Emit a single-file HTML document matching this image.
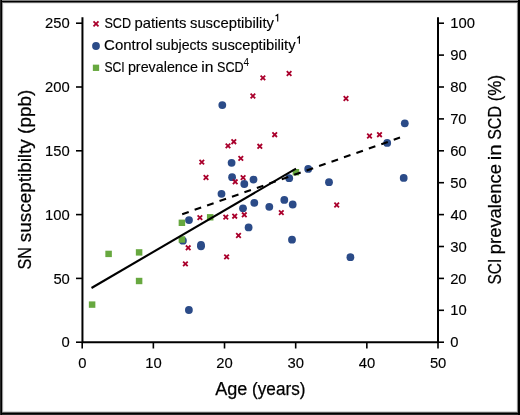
<!DOCTYPE html>
<html><head><meta charset="utf-8"><style>
html,body{margin:0;padding:0;background:#fff;}
body{width:520px;height:415px;overflow:hidden;}
.fr{position:absolute;left:0;width:520px;}
.fc{position:absolute;top:0;width:1px;height:415px;}
svg{position:absolute;left:0;top:0;will-change:transform;}
text{font-family:"Liberation Sans", sans-serif;fill:#000;}
.t{font-size:15.5px;stroke:#000;stroke-width:0.15px;}
.at{font-size:18px;stroke:#000;stroke-width:0.25px;}
.at2{font-size:19px;stroke:#000;stroke-width:0.25px;}
.lg{font-size:14.5px;stroke:#000;stroke-width:0.15px;}
.sup{font-size:10px;}
</style></head><body>
<div class="fr" style="top:0;height:1px;background:#808080"></div>
<div class="fr" style="top:1px;height:1px;background:#000"></div>
<div class="fr" style="top:2px;height:1px;background:#666"></div>
<div class="fr" style="top:3px;height:1px;left:3px;width:514px;background:#ebebeb"></div>
<div class="fr" style="top:411px;height:1px;left:3px;width:514px;background:#d9d9d9"></div>
<div class="fr" style="top:412px;height:1px;background:#595959"></div>
<div class="fr" style="top:413px;height:1px;background:#000"></div>
<div class="fr" style="top:414px;height:1px;background:#262626"></div>
<div class="fc" style="left:0;background:#262626"></div>
<div class="fc" style="left:1px;background:#000"></div>
<div class="fc" style="left:2px;top:3px;height:409px;background:#999"></div>
<div class="fc" style="left:3px;top:3px;height:408px;background:#f2f2f2"></div>
<div class="fc" style="left:516px;top:3px;height:408px;background:#f2f2f2"></div>
<div class="fc" style="left:517px;top:3px;height:409px;background:#888"></div>
<div class="fc" style="left:518px;background:#000"></div>
<div class="fc" style="left:519px;background:#000"></div>
<svg width="520" height="415" viewBox="0 0 520 415">
<path d="M82.45 17.2V342.2H438.0V17.2" stroke="#000" stroke-width="2" fill="none"/>
<line x1="76" y1="342.20" x2="82.2" y2="342.20" stroke="#000" stroke-width="1.6"/>
<text x="61.61" y="347.45" textLength="8.23" lengthAdjust="spacingAndGlyphs" class="t">0</text>
<line x1="76" y1="278.40" x2="82.2" y2="278.40" stroke="#000" stroke-width="1.6"/>
<text x="53.40" y="283.65" textLength="16.47" lengthAdjust="spacingAndGlyphs" class="t">50</text>
<line x1="76" y1="214.60" x2="82.2" y2="214.60" stroke="#000" stroke-width="1.6"/>
<text x="45.09" y="219.85" textLength="24.70" lengthAdjust="spacingAndGlyphs" class="t">100</text>
<line x1="76" y1="150.80" x2="82.2" y2="150.80" stroke="#000" stroke-width="1.6"/>
<text x="45.09" y="156.05" textLength="24.70" lengthAdjust="spacingAndGlyphs" class="t">150</text>
<line x1="76" y1="87.00" x2="82.2" y2="87.00" stroke="#000" stroke-width="1.6"/>
<text x="45.09" y="92.25" textLength="24.70" lengthAdjust="spacingAndGlyphs" class="t">200</text>
<line x1="76" y1="23.20" x2="82.2" y2="23.20" stroke="#000" stroke-width="1.6"/>
<text x="45.09" y="28.45" textLength="24.70" lengthAdjust="spacingAndGlyphs" class="t">250</text>
<line x1="82.20" y1="342.2" x2="82.20" y2="348.5" stroke="#000" stroke-width="1.6"/>
<text x="78.19" y="368.4" textLength="8.23" lengthAdjust="spacingAndGlyphs" class="t">0</text>
<line x1="153.36" y1="342.2" x2="153.36" y2="348.5" stroke="#000" stroke-width="1.6"/>
<text x="145.36" y="368.4" textLength="16.47" lengthAdjust="spacingAndGlyphs" class="t">10</text>
<line x1="224.52" y1="342.2" x2="224.52" y2="348.5" stroke="#000" stroke-width="1.6"/>
<text x="216.31" y="368.4" textLength="16.47" lengthAdjust="spacingAndGlyphs" class="t">20</text>
<line x1="295.68" y1="342.2" x2="295.68" y2="348.5" stroke="#000" stroke-width="1.6"/>
<text x="287.57" y="368.4" textLength="16.47" lengthAdjust="spacingAndGlyphs" class="t">30</text>
<line x1="366.84" y1="342.2" x2="366.84" y2="348.5" stroke="#000" stroke-width="1.6"/>
<text x="358.82" y="368.4" textLength="16.47" lengthAdjust="spacingAndGlyphs" class="t">40</text>
<line x1="438.00" y1="342.2" x2="438.00" y2="348.5" stroke="#000" stroke-width="1.6"/>
<text x="429.89" y="368.4" textLength="16.47" lengthAdjust="spacingAndGlyphs" class="t">50</text>
<line x1="438.0" y1="342.20" x2="444" y2="342.20" stroke="#000" stroke-width="1.6"/>
<text x="450.33" y="347.3" textLength="8.23" lengthAdjust="spacingAndGlyphs" class="t">0</text>
<line x1="438.0" y1="310.30" x2="444" y2="310.30" stroke="#000" stroke-width="1.6"/>
<text x="450.25" y="315.4" textLength="16.47" lengthAdjust="spacingAndGlyphs" class="t">10</text>
<line x1="438.0" y1="278.40" x2="444" y2="278.40" stroke="#000" stroke-width="1.6"/>
<text x="450.14" y="283.5" textLength="16.47" lengthAdjust="spacingAndGlyphs" class="t">20</text>
<line x1="438.0" y1="246.50" x2="444" y2="246.50" stroke="#000" stroke-width="1.6"/>
<text x="450.33" y="251.6" textLength="16.47" lengthAdjust="spacingAndGlyphs" class="t">30</text>
<line x1="438.0" y1="214.60" x2="444" y2="214.60" stroke="#000" stroke-width="1.6"/>
<text x="450.52" y="219.7" textLength="16.47" lengthAdjust="spacingAndGlyphs" class="t">40</text>
<line x1="438.0" y1="182.70" x2="444" y2="182.70" stroke="#000" stroke-width="1.6"/>
<text x="450.33" y="187.8" textLength="16.47" lengthAdjust="spacingAndGlyphs" class="t">50</text>
<line x1="438.0" y1="150.80" x2="444" y2="150.80" stroke="#000" stroke-width="1.6"/>
<text x="450.14" y="155.9" textLength="16.47" lengthAdjust="spacingAndGlyphs" class="t">60</text>
<line x1="438.0" y1="118.90" x2="444" y2="118.90" stroke="#000" stroke-width="1.6"/>
<text x="450.14" y="124.0" textLength="16.47" lengthAdjust="spacingAndGlyphs" class="t">70</text>
<line x1="438.0" y1="87.00" x2="444" y2="87.00" stroke="#000" stroke-width="1.6"/>
<text x="450.23" y="92.1" textLength="16.47" lengthAdjust="spacingAndGlyphs" class="t">80</text>
<line x1="438.0" y1="55.10" x2="444" y2="55.10" stroke="#000" stroke-width="1.6"/>
<text x="450.23" y="60.2" textLength="16.47" lengthAdjust="spacingAndGlyphs" class="t">90</text>
<line x1="438.0" y1="23.20" x2="444" y2="23.20" stroke="#000" stroke-width="1.6"/>
<text x="450.25" y="28.3" textLength="24.70" lengthAdjust="spacingAndGlyphs" class="t">100</text>
<text transform="translate(31.3 269.61) rotate(-90)" x="0" y="0" textLength="22.46" lengthAdjust="spacingAndGlyphs" class="at">SN</text>
<text transform="translate(31.3 242.28) rotate(-90)" x="0" y="0" textLength="103.07" lengthAdjust="spacingAndGlyphs" class="at">susceptibilty</text>
<text transform="translate(31.3 133.90) rotate(-90)" x="0" y="0" textLength="44.08" lengthAdjust="spacingAndGlyphs" class="at">(ppb)</text>
<text transform="translate(500.9 284.53) rotate(-90)" x="0" y="0" textLength="25.78" lengthAdjust="spacingAndGlyphs" class="at2">SCI</text>
<text transform="translate(500.9 254.26) rotate(-90)" x="0" y="0" textLength="90.19" lengthAdjust="spacingAndGlyphs" class="at2">prevalence</text>
<text transform="translate(500.9 160.20) rotate(-90)" x="0" y="0" textLength="15.87" lengthAdjust="spacingAndGlyphs" class="at2">in</text>
<text transform="translate(500.9 139.86) rotate(-90)" x="0" y="0" textLength="33.83" lengthAdjust="spacingAndGlyphs" class="at2">SCD</text>
<text transform="translate(500.9 101.27) rotate(-90)" x="0" y="0" textLength="26.29" lengthAdjust="spacingAndGlyphs" class="at2">(%)</text>
<text x="215.20" y="395.4" textLength="32.13" lengthAdjust="spacingAndGlyphs" class="at">Age</text>
<text x="252.05" y="395.4" textLength="53.40" lengthAdjust="spacingAndGlyphs" class="at">(years)</text>
<circle cx="222.3" cy="105.1" r="3.9" fill="#2b4b88"/>
<circle cx="231.6" cy="162.8" r="3.9" fill="#2b4b88"/>
<circle cx="232.1" cy="177.2" r="3.9" fill="#2b4b88"/>
<circle cx="253.5" cy="179.6" r="3.9" fill="#2b4b88"/>
<circle cx="244.3" cy="184" r="3.9" fill="#2b4b88"/>
<circle cx="289.2" cy="178.2" r="3.9" fill="#2b4b88"/>
<circle cx="308.2" cy="168.9" r="3.9" fill="#2b4b88"/>
<circle cx="329" cy="182.2" r="3.9" fill="#2b4b88"/>
<circle cx="387.2" cy="142.9" r="3.9" fill="#2b4b88"/>
<circle cx="404.8" cy="123.3" r="3.9" fill="#2b4b88"/>
<circle cx="403.7" cy="177.9" r="3.9" fill="#2b4b88"/>
<circle cx="221.5" cy="193.8" r="3.9" fill="#2b4b88"/>
<circle cx="254.3" cy="202.8" r="3.9" fill="#2b4b88"/>
<circle cx="243" cy="208.3" r="3.9" fill="#2b4b88"/>
<circle cx="269.3" cy="206.8" r="3.9" fill="#2b4b88"/>
<circle cx="284.3" cy="199.9" r="3.9" fill="#2b4b88"/>
<circle cx="292.7" cy="204.5" r="3.9" fill="#2b4b88"/>
<circle cx="248.6" cy="227.4" r="3.9" fill="#2b4b88"/>
<circle cx="292" cy="239.7" r="3.9" fill="#2b4b88"/>
<circle cx="189" cy="220.1" r="3.9" fill="#2b4b88"/>
<circle cx="182.9" cy="240.7" r="3.9" fill="#2b4b88"/>
<circle cx="201" cy="245.0" r="3.9" fill="#2b4b88"/>
<circle cx="201" cy="246.3" r="3.9" fill="#2b4b88"/>
<circle cx="350.4" cy="257.2" r="3.9" fill="#2b4b88"/>
<circle cx="188.9" cy="310" r="3.9" fill="#2b4b88"/>
<path d="M260.60 75.60L265.20 80.20M260.60 80.20L265.20 75.60" stroke="#aa002c" stroke-width="1.8" fill="none"/>
<path d="M286.80 71.20L291.40 75.80M286.80 75.80L291.40 71.20" stroke="#aa002c" stroke-width="1.8" fill="none"/>
<path d="M250.60 93.70L255.20 98.30M250.60 98.30L255.20 93.70" stroke="#aa002c" stroke-width="1.8" fill="none"/>
<path d="M343.70 96.20L348.30 100.80M343.70 100.80L348.30 96.20" stroke="#aa002c" stroke-width="1.8" fill="none"/>
<path d="M272.40 132.40L277.00 137.00M272.40 137.00L277.00 132.40" stroke="#aa002c" stroke-width="1.8" fill="none"/>
<path d="M231.50 139.40L236.10 144.00M231.50 144.00L236.10 139.40" stroke="#aa002c" stroke-width="1.8" fill="none"/>
<path d="M225.70 143.60L230.30 148.20M225.70 148.20L230.30 143.60" stroke="#aa002c" stroke-width="1.8" fill="none"/>
<path d="M257.50 144.00L262.10 148.60M257.50 148.60L262.10 144.00" stroke="#aa002c" stroke-width="1.8" fill="none"/>
<path d="M238.50 156.10L243.10 160.70M238.50 160.70L243.10 156.10" stroke="#aa002c" stroke-width="1.8" fill="none"/>
<path d="M199.50 159.80L204.10 164.40M199.50 164.40L204.10 159.80" stroke="#aa002c" stroke-width="1.8" fill="none"/>
<path d="M203.70 175.20L208.30 179.80M203.70 179.80L208.30 175.20" stroke="#aa002c" stroke-width="1.8" fill="none"/>
<path d="M240.80 175.30L245.40 179.90M240.80 179.90L245.40 175.30" stroke="#aa002c" stroke-width="1.8" fill="none"/>
<path d="M232.90 179.50L237.50 184.10M232.90 184.10L237.50 179.50" stroke="#aa002c" stroke-width="1.8" fill="none"/>
<path d="M367.20 133.70L371.80 138.30M367.20 138.30L371.80 133.70" stroke="#aa002c" stroke-width="1.8" fill="none"/>
<path d="M377.20 132.40L381.80 137.00M377.20 137.00L381.80 132.40" stroke="#aa002c" stroke-width="1.8" fill="none"/>
<path d="M334.40 202.70L339.00 207.30M334.40 207.30L339.00 202.70" stroke="#aa002c" stroke-width="1.8" fill="none"/>
<path d="M197.60 215.30L202.20 219.90M197.60 219.90L202.20 215.30" stroke="#aa002c" stroke-width="1.8" fill="none"/>
<path d="M223.50 214.80L228.10 219.40M223.50 219.40L228.10 214.80" stroke="#aa002c" stroke-width="1.8" fill="none"/>
<path d="M232.40 213.90L237.00 218.50M232.40 218.50L237.00 213.90" stroke="#aa002c" stroke-width="1.8" fill="none"/>
<path d="M242.00 212.50L246.60 217.10M242.00 217.10L246.60 212.50" stroke="#aa002c" stroke-width="1.8" fill="none"/>
<path d="M279.00 210.30L283.60 214.90M279.00 214.90L283.60 210.30" stroke="#aa002c" stroke-width="1.8" fill="none"/>
<path d="M236.20 233.20L240.80 237.80M236.20 237.80L240.80 233.20" stroke="#aa002c" stroke-width="1.8" fill="none"/>
<path d="M224.30 254.60L228.90 259.20M224.30 259.20L228.90 254.60" stroke="#aa002c" stroke-width="1.8" fill="none"/>
<path d="M185.90 245.50L190.50 250.10M185.90 250.10L190.50 245.50" stroke="#aa002c" stroke-width="1.8" fill="none"/>
<path d="M183.10 261.60L187.70 266.20M183.10 266.20L187.70 261.60" stroke="#aa002c" stroke-width="1.8" fill="none"/>
<rect x="88.85" y="301.40" width="6.5" height="6.4" fill="#67a83f"/>
<rect x="105.35" y="250.70" width="6.5" height="6.4" fill="#67a83f"/>
<rect x="135.85" y="249.20" width="6.5" height="6.4" fill="#67a83f"/>
<rect x="135.85" y="277.80" width="6.5" height="6.4" fill="#67a83f"/>
<rect x="178.65" y="219.60" width="6.5" height="6.4" fill="#67a83f"/>
<rect x="178.65" y="236.30" width="6.5" height="6.4" fill="#67a83f"/>
<rect x="206.95" y="214.10" width="6.5" height="6.4" fill="#67a83f"/>
<rect x="292.65" y="169.00" width="6.5" height="6.4" fill="#67a83f"/>
<line x1="91.5" y1="288.0" x2="296.0" y2="168.6" stroke="#000" stroke-width="2.1"/>
<line x1="182.2" y1="214.2" x2="400" y2="137.6" stroke="#000" stroke-width="2.1" stroke-dasharray="6.9 6.29"/>
<path d="M93.50 21.40L98.50 26.40M93.50 26.40L98.50 21.40" stroke="#aa002c" stroke-width="1.8" fill="none"/>
<circle cx="96" cy="46" r="3.9" fill="#2b4b88"/>
<rect x="92.85" y="64.65" width="6.3" height="6.3" fill="#67a83f"/>
<text x="104.39" y="28.2" textLength="26.63" lengthAdjust="spacingAndGlyphs" class="lg">SCD</text>
<text x="134.48" y="28.2" textLength="51.92" lengthAdjust="spacingAndGlyphs" class="lg">patients</text>
<text x="189.99" y="28.2" textLength="83.91" lengthAdjust="spacingAndGlyphs" class="lg">susceptibility</text>
<text x="104.08" y="50.2" textLength="48.30" lengthAdjust="spacingAndGlyphs" class="lg">Control</text>
<text x="155.81" y="50.2" textLength="51.77" lengthAdjust="spacingAndGlyphs" class="lg">subjects</text>
<text x="211.79" y="50.2" textLength="83.81" lengthAdjust="spacingAndGlyphs" class="lg">susceptibility</text>
<text x="104.41" y="72" textLength="20.23" lengthAdjust="spacingAndGlyphs" class="lg">SCI</text>
<text x="127.91" y="72" textLength="70.02" lengthAdjust="spacingAndGlyphs" class="lg">prevalence</text>
<text x="201.22" y="72" textLength="12.14" lengthAdjust="spacingAndGlyphs" class="lg">in</text>
<text x="217.09" y="72" textLength="26.63" lengthAdjust="spacingAndGlyphs" class="lg">SCD</text>
<path d="M275.60 16.00L277.70 14.50V21.60" stroke="#000" stroke-width="1.15" fill="none" stroke-linejoin="miter"/>
<path d="M297.30 38.20L299.40 36.70V43.80" stroke="#000" stroke-width="1.15" fill="none" stroke-linejoin="miter"/>
<text x="243.4" y="65.8" class="sup">4</text>
</svg>
</body></html>
